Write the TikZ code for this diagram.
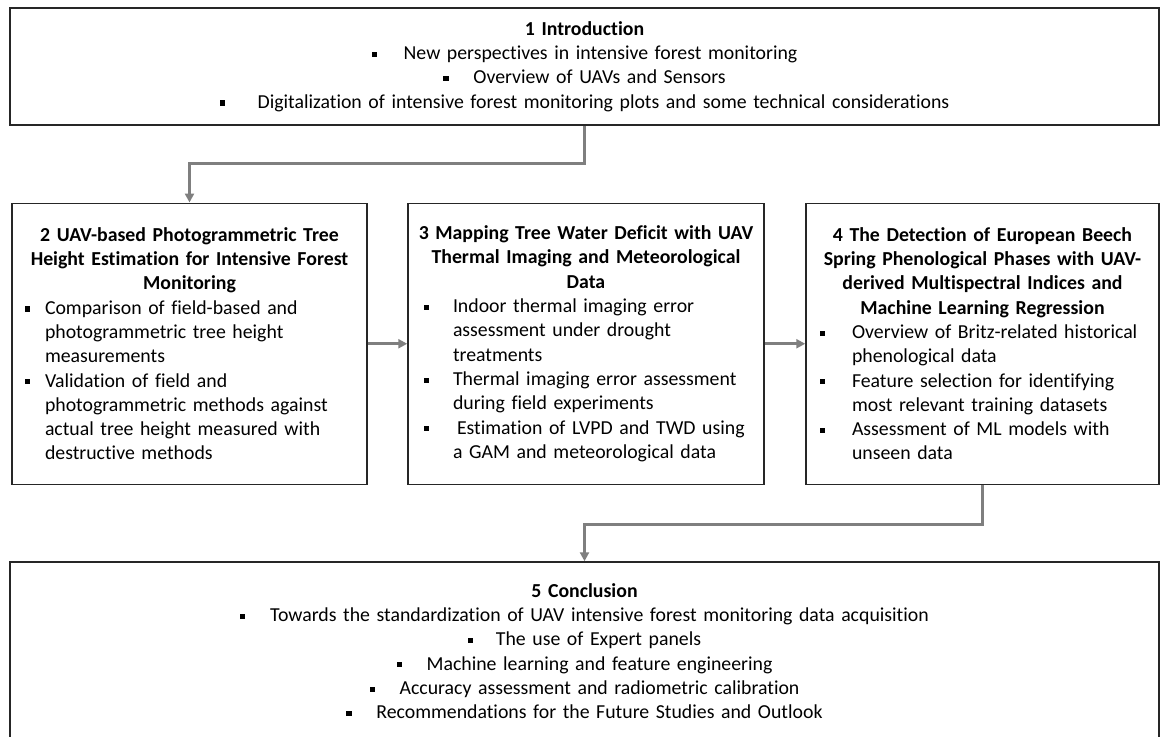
\documentclass[tikz,border=0pt]{standalone}
\usepackage{fontspec}
\setmainfont{Carlito}[Ligatures=NoCommon]
\usetikzlibrary{arrows.meta}
\definecolor{conncol}{HTML}{7F7F7F}
\newcommand\bul{\raisebox{2.6pt}{\rule{5.2pt}{5.2pt}}}
\newcommand\ttl[1]{\makebox[\linewidth]{\bfseries #1}}
\newcommand\bl[2]{\makebox[#1][l]{\bul}#2}
\newcommand\cl[2]{\hspace*{#1}#2}
\tikzset{
  box/.style={draw=black!85, line width=1.5pt, rectangle, inner sep=0pt,
    font=\fontsize{19.8}{24.3}\selectfont},
  sidebox/.style={box, minimum height=281pt, align=left},
  conn/.style={draw=conncol, line width=3pt, -{Triangle[length=9pt,width=9pt]}}
}
\begin{document}
\begin{tikzpicture}[x=1pt,y=1pt]
\clip (0,0) rectangle (1161,-736);
\fill[white] (0,0) rectangle (1161,-736);

\node[box, minimum width=1149pt, minimum height=117pt, text width=1120pt, align=center]
  (b1) at (584.5,-66.5)
  {{\bfseries 1 Introduction}\\
   \bl{32pt}{New perspectives in intensive forest monitoring}\\
   \bl{30pt}{Overview of UAVs and Sensors}\\
   \bl{38pt}{Digitalization of intensive forest monitoring plots and some technical considerations}};

\node[sidebox, minimum width=355pt, text width=329pt] (b2) at (189.5,-343.75)
  {\ttl{2 UAV-based Photogrammetric Tree}\\
   \ttl{Height Estimation for Intensive Forest}\\
   \ttl{Monitoring}\\
   \bl{20pt}{Comparison of field-based and}\\
   \cl{20pt}{photogrammetric tree height}\\
   \cl{20pt}{measurements}\\
   \bl{20pt}{Validation of field and}\\
   \cl{20pt}{photogrammetric methods against}\\
   \cl{20pt}{actual tree height measured with}\\
   \cl{20pt}{destructive methods}};

\node[sidebox, minimum width=356pt, text width=324pt] (b3) at (586,-343.75)
  {\ttl{3 Mapping Tree Water Deficit with UAV}\\
   \ttl{Thermal Imaging and Meteorological}\\
   \ttl{Data}\\
   \bl{29pt}{Indoor thermal imaging error}\\
   \cl{29pt}{assessment under drought}\\
   \cl{29pt}{treatments}\\
   \bl{29pt}{Thermal imaging error assessment}\\
   \cl{29pt}{during field experiments}\\
   \bl{33pt}{Estimation of LVPD and TWD using}\\
   \cl{29pt}{a GAM and meteorological data}};

\node[sidebox, minimum width=353pt, text width=325pt] (b4) at (982.5,-343.75)
  {\ttl{4 The Detection of European Beech}\\
   \ttl{Spring Phenological Phases with UAV-}\\
   \ttl{derived Multispectral Indices and}\\
   \ttl{Machine Learning Regression}\\
   \bl{32pt}{Overview of Britz-related historical}\\
   \cl{32pt}{phenological data}\\
   \bl{32pt}{Feature selection for identifying}\\
   \cl{32pt}{most relevant training datasets}\\
   \bl{32pt}{Assessment of ML models with}\\
   \cl{32pt}{unseen data}};

\node[box, minimum width=1149pt, minimum height=178pt, text width=1120pt, align=center]
  (b5) at (584.5,-651)
  {{\bfseries 5 Conclusion}\\
   \bl{30pt}{Towards the standardization of UAV intensive forest monitoring data acquisition}\\
   \bl{28pt}{The use of Expert panels}\\
   \bl{30pt}{Machine learning and feature engineering}\\
   \bl{30pt}{Accuracy assessment and radiometric calibration}\\
   \bl{30pt}{Recommendations for the Future Studies and Outlook}};

\draw[conn] (b1.south) -- ++(0,-38) -| (b2.north);
\draw[conn] (b2.east) -- (b3.west);
\draw[conn] (b3.east) -- (b4.west);
\draw[conn] (b4.south) -- ++(0,-39) -| (b5.north);
\end{tikzpicture}
\end{document}
